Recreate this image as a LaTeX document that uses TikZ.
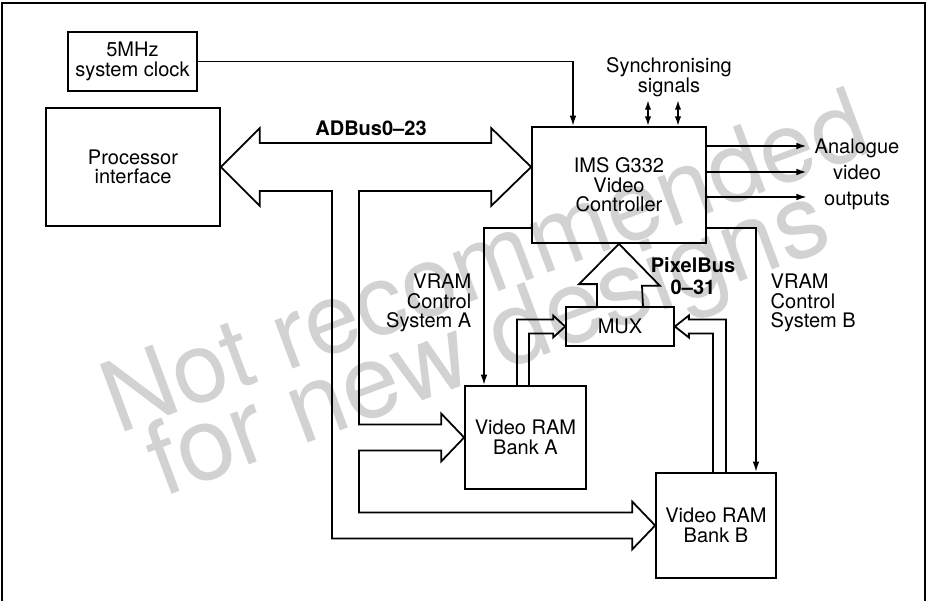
\documentclass[tikz,border=0pt]{standalone}
\usepackage{fontspec}
\setmainfont{TeX Gyre Heros}
\usetikzlibrary{arrows.meta,calc}
\begin{document}
\begin{tikzpicture}[x=0.02cm,y=-0.02cm,line width=1pt,
  every node/.style={font=\fontsize{11.4pt}{11.2pt}\selectfont,align=center},
  box/.style={draw,inner sep=0pt},
  buslabel/.style={font=\fontsize{11.4pt}{12.4pt}\selectfont\bfseries},
  sig/.style={-{Latex[length=6pt,width=3.8pt]}},
  sync/.style={{Latex[length=5.5pt,width=3.6pt]}-{Latex[length=5.5pt,width=3.6pt]}},
  bus/.style={line join=miter},
  wmark/.style={text=gray!35,rotate=20.5}]
\useasboundingbox (0,0) rectangle (927,601);
% watermark
\node[wmark,font=\fontsize{56pt}{56pt}\selectfont] (wm1) at (484,260) {Not recommended};
\node[wmark,font=\fontsize{58.5pt}{58pt}\selectfont] (wm2) at (490,347) {for new designs};
% frame, open at the bottom
\draw[line width=0.8pt] (2,601) -- (2,3) -- (925,3) -- (925,601);
% blocks
\node[box,minimum width=2.58cm,minimum height=1.18cm] (clock) at (132.5,61.5) {5MHz\\system clock};
\node[box,minimum width=3.48cm,minimum height=2.36cm] (proc) at (133,167) {Processor\\interface};
\node[box,minimum width=3.48cm,minimum height=2.32cm] (ctrl) at (619,185) {IMS G332\\Video\\Controller};
\node[box,minimum width=2.16cm,minimum height=0.78cm] (mux) at (620,326.5) {MUX};
\node[box,minimum width=2.42cm,minimum height=2.06cm] (bankA) at (525.5,437.5) {Video RAM\\Bank A};
\node[box,minimum width=2.40cm,minimum height=2.10cm] (bankB) at (716,525.5) {Video RAM\\Bank B};
% clock
\draw[sig] (clock.east) -| ($(ctrl.north)+(-46,0)$);
% ADBus and its branches to the two banks
\coordinate (trunkout) at (332,191);
\coordinate (trunkin) at (359,191);
\draw[bus] (proc.east) -- ++(39,-39) -- ++(0,15)
  -- ($(ctrl.west |- proc.east)+(-40,-24)$) -- ++(0,-15)
  -- (ctrl.west |- proc.east) -- ++(-40,39) -- ++(0,-15)
  -- (trunkin) -- ($(bankA.west -| trunkin)+(0,-13)$)
  -- ($(bankA.west)+(-23,-13)$) -- ++(0,-11) -- (bankA.west)
  -- ++(-23,24) -- ++(0,-11) -- ($(bankA.west -| trunkin)+(0,13)$)
  -- ($(bankB.west -| trunkin)+(0,-13)$)
  -- ($(bankB.west)+(-23,-13)$) -- ++(0,-11) -- (bankB.west)
  -- ++(-23,24) -- ++(0,-11) -- ($(bankB.west -| trunkout)+(0,13)$)
  -- (trunkout) -- ($(proc.east)+(39,24)$) -- ++(0,15) -- cycle;
\node[buslabel] (adlbl) at (371,128) {ADBus0--23};
% synchronising signals
\coordinate (syncA) at (648,100);
\coordinate (syncB) at (678,100);
\draw[sync] (syncA) -- (syncA |- ctrl.north);
\draw[sync] (syncB) -- (syncB |- ctrl.north);
\node (synclbl) at (669,77) {Synchronising\\signals};
% video outputs
\coordinate (vidout) at (807,172);
\draw[sig,line width=1.6pt] ($(ctrl.east)+(0,-39)$) -- ($(vidout)+(0,-26)$);
\draw[sig,line width=1.6pt] ($(ctrl.east)+(0,-13)$) -- (vidout);
\draw[sig] ($(ctrl.east)+(0,12)$) -- ($(vidout)+(0,25)$);
\node[font=\fontsize{11.4pt}{14.8pt}\selectfont] (outlbl) at (857,174) {Analogue\\video\\outputs};
% VRAM control
\draw[sig] ($(ctrl.west)+(0,43)$) -| ($(bankA.north)+(-41.5,0)$);
\draw[sig] ($(ctrl.east)+(0,43)$) -| ($(bankB.north)+(40,0)$);
\node[anchor=east,align=right] (ctlA) at (478,303) {VRAM\\Control\\System A};
\node[anchor=west,align=left] (ctlB) at (764,303) {VRAM\\Control\\System B};
% PixelBus
\draw[bus] ($(mux.north)+(-23,0)$) -- ++(0,-22) -- ++(-18,0) -- (ctrl.south)
  -- ++(41,42) -- ++(-18,0) -- ($(mux.north)+(23,0)$);
\node[buslabel] (pixlbl) at (693,276) {PixelBus\\0--31};
% banks to MUX
\draw[bus] ($(bankA.north)+(-8.5,0)$) |- ($(mux.west)+(-12,-7)$) -- ++(0,-4) -- (mux.west)
  -- ++(-12,11) -- ++(0,-4) -| ($(bankA.north)+(3.5,0)$);
\draw[bus] ($(bankB.north)+(10,0)$) |- ($(mux.east)+(14,-7)$) -- ++(0,-4) -- (mux.east)
  -- ++(14,11) -- ++(0,-4) -| ($(bankB.north)+(-3,0)$);
\end{tikzpicture}
\end{document}
